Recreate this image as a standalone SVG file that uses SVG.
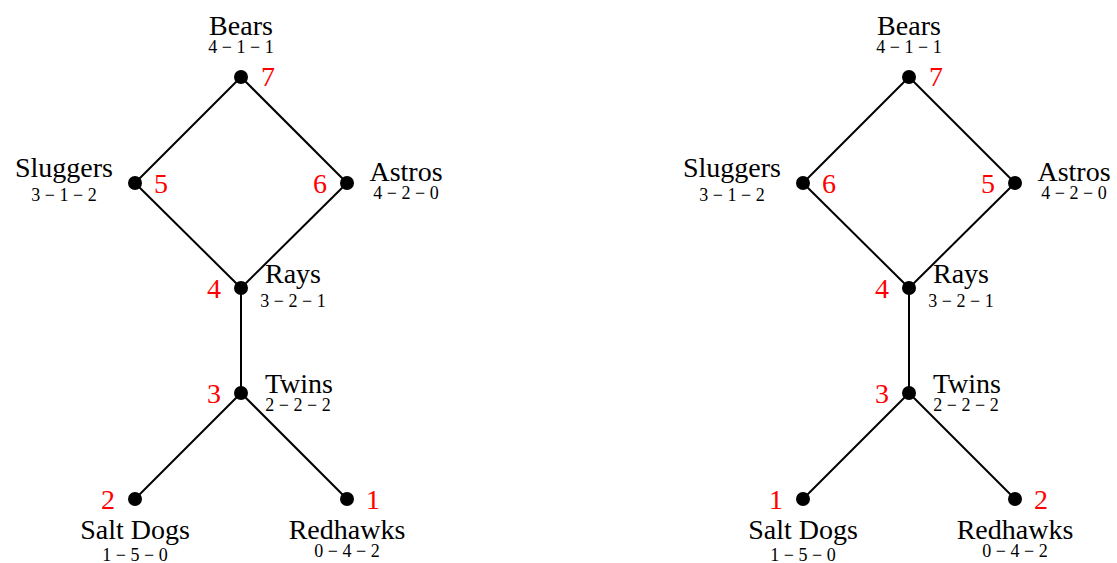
<svg xmlns="http://www.w3.org/2000/svg" width="1117" height="563" viewBox="0 0 1117 563">
  <style>
    .edge { stroke: #000; stroke-width: 2; fill: none; }
    .dot { fill: #000; }
    .name { font-family: 'Liberation Serif', serif; font-size: 28px; fill: #000; text-anchor: middle; }
    .rec { font-family: 'Liberation Serif', serif; font-size: 18px; fill: #000; text-anchor: middle; }
    .rank { font-family: 'Liberation Serif', serif; font-size: 28px; fill: #ff0000; text-anchor: middle; }
  </style>

  <!-- Left ranking -->
  <g id="left">
    <g id="left-edges">
      <line class="edge" x1="241" y1="77" x2="135" y2="183"/>
      <line class="edge" x1="241" y1="77" x2="347" y2="183"/>
      <line class="edge" x1="135" y1="183" x2="241" y2="288"/>
      <line class="edge" x1="347" y1="183" x2="241" y2="288"/>
      <line class="edge" x1="241" y1="288" x2="241" y2="393"/>
      <line class="edge" x1="241" y1="393" x2="135" y2="499"/>
      <line class="edge" x1="241" y1="393" x2="347" y2="499"/>
    </g>
    <g id="left-bears">
      <circle class="dot" cx="241" cy="77" r="7"/>
      <text class="name" x="241" y="35">Bears</text>
      <text class="rec" x="241" y="53">4 − 1 − 1</text>
      <text class="rank" x="268" y="86">7</text>
    </g>
    <g id="left-sluggers">
      <circle class="dot" cx="135" cy="183" r="7"/>
      <text class="name" x="64" y="177">Sluggers</text>
      <text class="rec" x="64" y="201">3 − 1 − 2</text>
      <text class="rank" x="161" y="193">5</text>
    </g>
    <g id="left-astros">
      <circle class="dot" cx="347" cy="183" r="7"/>
      <text class="name" x="406" y="181">Astros</text>
      <text class="rec" x="406" y="199">4 − 2 − 0</text>
      <text class="rank" x="320" y="193">6</text>
    </g>
    <g id="left-rays">
      <circle class="dot" cx="241" cy="288" r="7"/>
      <text class="name" x="293" y="283">Rays</text>
      <text class="rec" x="293" y="307">3 − 2 − 1</text>
      <text class="rank" x="214" y="298">4</text>
    </g>
    <g id="left-twins">
      <circle class="dot" cx="241" cy="393" r="7"/>
      <text class="name" x="299" y="393">Twins</text>
      <text class="rec" x="298" y="411">2 − 2 − 2</text>
      <text class="rank" x="214" y="403">3</text>
    </g>
    <g id="left-saltdogs">
      <circle class="dot" cx="135" cy="499" r="7"/>
      <text class="name" x="135" y="539">Salt Dogs</text>
      <text class="rec" x="135" y="561">1 − 5 − 0</text>
      <text class="rank" x="108" y="509">2</text>
    </g>
    <g id="left-redhawks">
      <circle class="dot" cx="347" cy="499" r="7"/>
      <text class="name" x="347" y="539">Redhawks</text>
      <text class="rec" x="347" y="557">0 − 4 − 2</text>
      <text class="rank" x="373" y="509">1</text>
    </g>
  </g>

  <!-- Right ranking: same layout shifted 668px -->
  <g id="right" transform="translate(668,0)">
    <g id="right-edges">
      <line class="edge" x1="241" y1="77" x2="135" y2="183"/>
      <line class="edge" x1="241" y1="77" x2="347" y2="183"/>
      <line class="edge" x1="135" y1="183" x2="241" y2="288"/>
      <line class="edge" x1="347" y1="183" x2="241" y2="288"/>
      <line class="edge" x1="241" y1="288" x2="241" y2="393"/>
      <line class="edge" x1="241" y1="393" x2="135" y2="499"/>
      <line class="edge" x1="241" y1="393" x2="347" y2="499"/>
    </g>
    <g id="right-bears">
      <circle class="dot" cx="241" cy="77" r="7"/>
      <text class="name" x="241" y="35">Bears</text>
      <text class="rec" x="241" y="53">4 − 1 − 1</text>
      <text class="rank" x="268" y="86">7</text>
    </g>
    <g id="right-sluggers">
      <circle class="dot" cx="135" cy="183" r="7"/>
      <text class="name" x="64" y="177">Sluggers</text>
      <text class="rec" x="64" y="201">3 − 1 − 2</text>
      <text class="rank" x="161" y="193">6</text>
    </g>
    <g id="right-astros">
      <circle class="dot" cx="347" cy="183" r="7"/>
      <text class="name" x="406" y="181">Astros</text>
      <text class="rec" x="406" y="199">4 − 2 − 0</text>
      <text class="rank" x="320" y="193">5</text>
    </g>
    <g id="right-rays">
      <circle class="dot" cx="241" cy="288" r="7"/>
      <text class="name" x="293" y="283">Rays</text>
      <text class="rec" x="293" y="307">3 − 2 − 1</text>
      <text class="rank" x="214" y="298">4</text>
    </g>
    <g id="right-twins">
      <circle class="dot" cx="241" cy="393" r="7"/>
      <text class="name" x="299" y="393">Twins</text>
      <text class="rec" x="298" y="411">2 − 2 − 2</text>
      <text class="rank" x="214" y="403">3</text>
    </g>
    <g id="right-saltdogs">
      <circle class="dot" cx="135" cy="499" r="7"/>
      <text class="name" x="135" y="539">Salt Dogs</text>
      <text class="rec" x="135" y="561">1 − 5 − 0</text>
      <text class="rank" x="108" y="509">1</text>
    </g>
    <g id="right-redhawks">
      <circle class="dot" cx="347" cy="499" r="7"/>
      <text class="name" x="347" y="539">Redhawks</text>
      <text class="rec" x="347" y="557">0 − 4 − 2</text>
      <text class="rank" x="373" y="509">2</text>
    </g>
  </g>
</svg>
